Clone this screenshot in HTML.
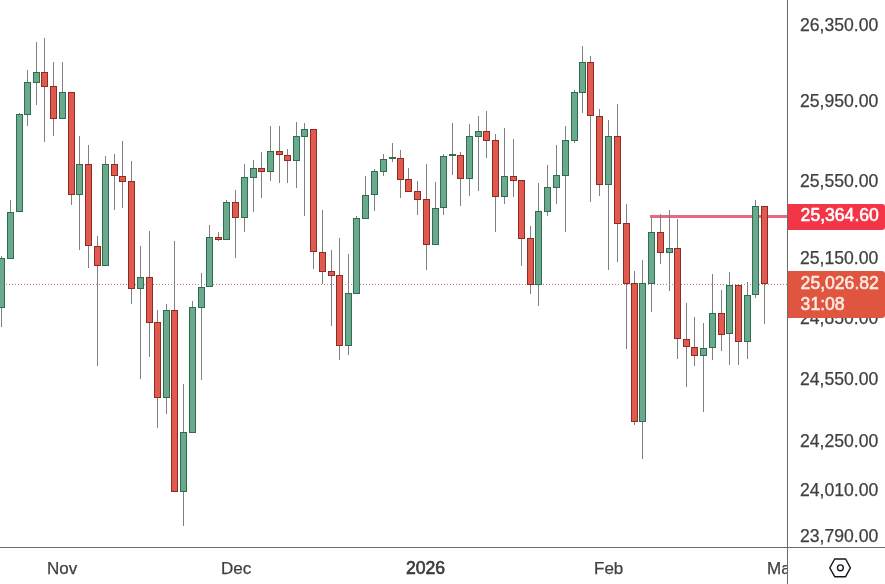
<!DOCTYPE html>
<html><head><meta charset="utf-8">
<style>
html,body{margin:0;padding:0;background:#fff;}
body{width:885px;height:584px;position:relative;overflow:hidden;font-family:"Liberation Sans",sans-serif;}
.pl,.tl,.lab{will-change:transform;}
.pl,.tl{-webkit-text-stroke:0.25px #404040;}
.vline{position:absolute;left:787px;top:0;width:1px;height:584px;background:#6b6b6b;}
.hline{position:absolute;left:0;top:547px;width:885px;height:1px;background:#6b6b6b;}
.pl{position:absolute;left:800px;width:84px;height:21px;line-height:21px;font-size:17.6px;color:#404040;white-space:nowrap;}
.tl{position:absolute;top:557.5px;height:21px;line-height:21px;font-size:17px;color:#404040;white-space:nowrap;}
.lab{position:absolute;left:788px;width:97px;border-radius:0 3px 3px 0;color:#fff;font-weight:normal;font-size:17.6px;-webkit-text-stroke:0.55px currentColor;}
.lab div{position:absolute;left:12.6px;height:21px;line-height:21px;white-space:nowrap;}
</style></head><body>
<svg width="787" height="547" viewBox="0 0 787 547" style="position:absolute;left:0;top:0" shape-rendering="crispEdges">
<line x1="6" y1="284.5" x2="787" y2="284.5" stroke="#c47482" stroke-width="1" stroke-dasharray="1 2" />
<rect x="650" y="215" width="137" height="3" fill="#e46c80"/>
<g fill="#808080"><rect x="1" y="256" width="1" height="71"/><rect x="10" y="200" width="1" height="59"/><rect x="19" y="113" width="1" height="99"/><rect x="27" y="70" width="1" height="56"/><rect x="36" y="42" width="1" height="63"/><rect x="44" y="38" width="1" height="104"/><rect x="53" y="62" width="1" height="74"/><rect x="62" y="62" width="1" height="57"/><rect x="71" y="92" width="1" height="113"/><rect x="79" y="136" width="1" height="114"/><rect x="88" y="145" width="1" height="123"/><rect x="97" y="236" width="1" height="130"/><rect x="105" y="156" width="1" height="110"/><rect x="114" y="154" width="1" height="56"/><rect x="122" y="141" width="1" height="67"/><rect x="131" y="161" width="1" height="143"/><rect x="140" y="246" width="1" height="133"/><rect x="149" y="231" width="1" height="126"/><rect x="157" y="310" width="1" height="118"/><rect x="166" y="304" width="1" height="110"/><rect x="174" y="241" width="1" height="251"/><rect x="183" y="384" width="1" height="142"/><rect x="192" y="301" width="1" height="132"/><rect x="201" y="273" width="1" height="107"/><rect x="209" y="225" width="1" height="62"/><rect x="218" y="232" width="1" height="9"/><rect x="226" y="200" width="1" height="39"/><rect x="235" y="190" width="1" height="68"/><rect x="244" y="164" width="1" height="68"/><rect x="253" y="160" width="1" height="52"/><rect x="261" y="152" width="1" height="46"/><rect x="270" y="126" width="1" height="55"/><rect x="279" y="126" width="1" height="57"/><rect x="287" y="149" width="1" height="34"/><rect x="296" y="122" width="1" height="66"/><rect x="304" y="123" width="1" height="93"/><rect x="313" y="129" width="1" height="140"/><rect x="322" y="210" width="1" height="74"/><rect x="331" y="250" width="1" height="76"/><rect x="339" y="238" width="1" height="122"/><rect x="348" y="254" width="1" height="101"/><rect x="356" y="216" width="1" height="78"/><rect x="365" y="176" width="1" height="42"/><rect x="374" y="169" width="1" height="42"/><rect x="383" y="154" width="1" height="22"/><rect x="392" y="143" width="1" height="19"/><rect x="400" y="150" width="1" height="48"/><rect x="408" y="168" width="1" height="24"/><rect x="417" y="181" width="1" height="34"/><rect x="426" y="164" width="1" height="106"/><rect x="435" y="182" width="1" height="63"/><rect x="443" y="154" width="1" height="61"/><rect x="452" y="123" width="1" height="52"/><rect x="460" y="152" width="1" height="54"/><rect x="469" y="124" width="1" height="72"/><rect x="478" y="116" width="1" height="75"/><rect x="486" y="111" width="1" height="47"/><rect x="495" y="134" width="1" height="98"/><rect x="504" y="128" width="1" height="76"/><rect x="513" y="139" width="1" height="58"/><rect x="521" y="180" width="1" height="86"/><rect x="530" y="226" width="1" height="68"/><rect x="538" y="183" width="1" height="123"/><rect x="547" y="165" width="1" height="51"/><rect x="556" y="145" width="1" height="59"/><rect x="565" y="126" width="1" height="106"/><rect x="574" y="90" width="1" height="53"/><rect x="582" y="46" width="1" height="67"/><rect x="590" y="56" width="1" height="146"/><rect x="599" y="109" width="1" height="87"/><rect x="608" y="120" width="1" height="150"/><rect x="617" y="104" width="1" height="158"/><rect x="626" y="204" width="1" height="145"/><rect x="634" y="271" width="1" height="154"/><rect x="642" y="260" width="1" height="199"/><rect x="651" y="218" width="1" height="94"/><rect x="660" y="214" width="1" height="50"/><rect x="669" y="210" width="1" height="81"/><rect x="677" y="219" width="1" height="140"/><rect x="686" y="303" width="1" height="84"/><rect x="694" y="317" width="1" height="49"/><rect x="703" y="323" width="1" height="89"/><rect x="712" y="274" width="1" height="86"/><rect x="721" y="290" width="1" height="61"/><rect x="729" y="272" width="1" height="93"/><rect x="738" y="285" width="1" height="80"/><rect x="747" y="282" width="1" height="77"/><rect x="755" y="200" width="1" height="98"/><rect x="764" y="206" width="1" height="118"/></g>
<g><rect x="-2" y="258" width="7" height="50" fill="#2f6d52"/><rect x="-1" y="259" width="5" height="48" fill="#6aa98b"/><rect x="7" y="212" width="7" height="47" fill="#2f6d52"/><rect x="8" y="213" width="5" height="45" fill="#6aa98b"/><rect x="16" y="114" width="7" height="98" fill="#2f6d52"/><rect x="17" y="115" width="5" height="96" fill="#6aa98b"/><rect x="24" y="82" width="7" height="33" fill="#2f6d52"/><rect x="25" y="83" width="5" height="31" fill="#6aa98b"/><rect x="33" y="72" width="7" height="11" fill="#2f6d52"/><rect x="34" y="73" width="5" height="9" fill="#6aa98b"/><rect x="41" y="72" width="7" height="15" fill="#8c2c22"/><rect x="42" y="73" width="5" height="13" fill="#e15a50"/><rect x="50" y="86" width="7" height="33" fill="#8c2c22"/><rect x="51" y="87" width="5" height="31" fill="#e15a50"/><rect x="59" y="92" width="7" height="27" fill="#2f6d52"/><rect x="60" y="93" width="5" height="25" fill="#6aa98b"/><rect x="68" y="92" width="7" height="103" fill="#8c2c22"/><rect x="69" y="93" width="5" height="101" fill="#e15a50"/><rect x="76" y="164" width="7" height="31" fill="#2f6d52"/><rect x="77" y="165" width="5" height="29" fill="#6aa98b"/><rect x="85" y="164" width="7" height="82" fill="#8c2c22"/><rect x="86" y="165" width="5" height="80" fill="#e15a50"/><rect x="94" y="246" width="7" height="20" fill="#8c2c22"/><rect x="95" y="247" width="5" height="18" fill="#e15a50"/><rect x="102" y="164" width="7" height="102" fill="#2f6d52"/><rect x="103" y="165" width="5" height="100" fill="#6aa98b"/><rect x="111" y="164" width="7" height="12" fill="#8c2c22"/><rect x="112" y="165" width="5" height="10" fill="#e15a50"/><rect x="119" y="176" width="7" height="6" fill="#8c2c22"/><rect x="120" y="177" width="5" height="4" fill="#e15a50"/><rect x="128" y="181" width="7" height="108" fill="#8c2c22"/><rect x="129" y="182" width="5" height="106" fill="#e15a50"/><rect x="137" y="277" width="7" height="12" fill="#2f6d52"/><rect x="138" y="278" width="5" height="10" fill="#6aa98b"/><rect x="146" y="277" width="7" height="46" fill="#8c2c22"/><rect x="147" y="278" width="5" height="44" fill="#e15a50"/><rect x="154" y="322" width="7" height="76" fill="#8c2c22"/><rect x="155" y="323" width="5" height="74" fill="#e15a50"/><rect x="163" y="310" width="7" height="88" fill="#2f6d52"/><rect x="164" y="311" width="5" height="86" fill="#6aa98b"/><rect x="171" y="310" width="7" height="182" fill="#8c2c22"/><rect x="172" y="311" width="5" height="180" fill="#e15a50"/><rect x="180" y="432" width="7" height="60" fill="#2f6d52"/><rect x="181" y="433" width="5" height="58" fill="#6aa98b"/><rect x="189" y="307" width="7" height="126" fill="#2f6d52"/><rect x="190" y="308" width="5" height="124" fill="#6aa98b"/><rect x="198" y="287" width="7" height="21" fill="#2f6d52"/><rect x="199" y="288" width="5" height="19" fill="#6aa98b"/><rect x="206" y="237" width="7" height="50" fill="#2f6d52"/><rect x="207" y="238" width="5" height="48" fill="#6aa98b"/><rect x="215" y="237" width="7" height="3" fill="#8c2c22"/><rect x="216" y="238" width="5" height="1" fill="#e15a50"/><rect x="223" y="202" width="7" height="38" fill="#2f6d52"/><rect x="224" y="203" width="5" height="36" fill="#6aa98b"/><rect x="232" y="202" width="7" height="16" fill="#8c2c22"/><rect x="233" y="203" width="5" height="14" fill="#e15a50"/><rect x="241" y="177" width="7" height="41" fill="#2f6d52"/><rect x="242" y="178" width="5" height="39" fill="#6aa98b"/><rect x="250" y="168" width="7" height="10" fill="#2f6d52"/><rect x="251" y="169" width="5" height="8" fill="#6aa98b"/><rect x="258" y="168" width="7" height="4" fill="#8c2c22"/><rect x="259" y="169" width="5" height="2" fill="#e15a50"/><rect x="267" y="151" width="7" height="21" fill="#2f6d52"/><rect x="268" y="152" width="5" height="19" fill="#6aa98b"/><rect x="276" y="151" width="7" height="4" fill="#8c2c22"/><rect x="277" y="152" width="5" height="2" fill="#e15a50"/><rect x="284" y="155" width="7" height="6" fill="#8c2c22"/><rect x="285" y="156" width="5" height="4" fill="#e15a50"/><rect x="293" y="136" width="7" height="25" fill="#2f6d52"/><rect x="294" y="137" width="5" height="23" fill="#6aa98b"/><rect x="301" y="129" width="7" height="8" fill="#2f6d52"/><rect x="302" y="130" width="5" height="6" fill="#6aa98b"/><rect x="310" y="129" width="7" height="123" fill="#8c2c22"/><rect x="311" y="130" width="5" height="121" fill="#e15a50"/><rect x="319" y="252" width="7" height="20" fill="#8c2c22"/><rect x="320" y="253" width="5" height="18" fill="#e15a50"/><rect x="328" y="271" width="7" height="5" fill="#8c2c22"/><rect x="329" y="272" width="5" height="3" fill="#e15a50"/><rect x="336" y="275" width="7" height="71" fill="#8c2c22"/><rect x="337" y="276" width="5" height="69" fill="#e15a50"/><rect x="345" y="293" width="7" height="53" fill="#2f6d52"/><rect x="346" y="294" width="5" height="51" fill="#6aa98b"/><rect x="353" y="218" width="7" height="76" fill="#2f6d52"/><rect x="354" y="219" width="5" height="74" fill="#6aa98b"/><rect x="362" y="195" width="7" height="24" fill="#2f6d52"/><rect x="363" y="196" width="5" height="22" fill="#6aa98b"/><rect x="371" y="171" width="7" height="24" fill="#2f6d52"/><rect x="372" y="172" width="5" height="22" fill="#6aa98b"/><rect x="380" y="159" width="7" height="13" fill="#2f6d52"/><rect x="381" y="160" width="5" height="11" fill="#6aa98b"/><rect x="389" y="157" width="7" height="2" fill="#2f6d52"/><rect x="397" y="158" width="7" height="22" fill="#8c2c22"/><rect x="398" y="159" width="5" height="20" fill="#e15a50"/><rect x="405" y="179" width="7" height="13" fill="#8c2c22"/><rect x="406" y="180" width="5" height="11" fill="#e15a50"/><rect x="414" y="191" width="7" height="9" fill="#8c2c22"/><rect x="415" y="192" width="5" height="7" fill="#e15a50"/><rect x="423" y="199" width="7" height="46" fill="#8c2c22"/><rect x="424" y="200" width="5" height="44" fill="#e15a50"/><rect x="432" y="208" width="7" height="37" fill="#2f6d52"/><rect x="433" y="209" width="5" height="35" fill="#6aa98b"/><rect x="440" y="156" width="7" height="52" fill="#2f6d52"/><rect x="441" y="157" width="5" height="50" fill="#6aa98b"/><rect x="449" y="154" width="7" height="2" fill="#2f6d52"/><rect x="457" y="155" width="7" height="24" fill="#8c2c22"/><rect x="458" y="156" width="5" height="22" fill="#e15a50"/><rect x="466" y="136" width="7" height="43" fill="#2f6d52"/><rect x="467" y="137" width="5" height="41" fill="#6aa98b"/><rect x="475" y="131" width="7" height="6" fill="#2f6d52"/><rect x="476" y="132" width="5" height="4" fill="#6aa98b"/><rect x="483" y="131" width="7" height="10" fill="#8c2c22"/><rect x="484" y="132" width="5" height="8" fill="#e15a50"/><rect x="492" y="140" width="7" height="57" fill="#8c2c22"/><rect x="493" y="141" width="5" height="55" fill="#e15a50"/><rect x="501" y="176" width="7" height="21" fill="#2f6d52"/><rect x="502" y="177" width="5" height="19" fill="#6aa98b"/><rect x="510" y="176" width="7" height="5" fill="#8c2c22"/><rect x="511" y="177" width="5" height="3" fill="#e15a50"/><rect x="518" y="180" width="7" height="59" fill="#8c2c22"/><rect x="519" y="181" width="5" height="57" fill="#e15a50"/><rect x="527" y="238" width="7" height="47" fill="#8c2c22"/><rect x="528" y="239" width="5" height="45" fill="#e15a50"/><rect x="535" y="211" width="7" height="74" fill="#2f6d52"/><rect x="536" y="212" width="5" height="72" fill="#6aa98b"/><rect x="544" y="187" width="7" height="25" fill="#2f6d52"/><rect x="545" y="188" width="5" height="23" fill="#6aa98b"/><rect x="553" y="175" width="7" height="13" fill="#2f6d52"/><rect x="554" y="176" width="5" height="11" fill="#6aa98b"/><rect x="562" y="140" width="7" height="36" fill="#2f6d52"/><rect x="563" y="141" width="5" height="34" fill="#6aa98b"/><rect x="571" y="92" width="7" height="49" fill="#2f6d52"/><rect x="572" y="93" width="5" height="47" fill="#6aa98b"/><rect x="579" y="62" width="7" height="31" fill="#2f6d52"/><rect x="580" y="63" width="5" height="29" fill="#6aa98b"/><rect x="587" y="62" width="7" height="54" fill="#8c2c22"/><rect x="588" y="63" width="5" height="52" fill="#e15a50"/><rect x="596" y="116" width="7" height="69" fill="#8c2c22"/><rect x="597" y="117" width="5" height="67" fill="#e15a50"/><rect x="605" y="136" width="7" height="49" fill="#2f6d52"/><rect x="606" y="137" width="5" height="47" fill="#6aa98b"/><rect x="614" y="136" width="7" height="88" fill="#8c2c22"/><rect x="615" y="137" width="5" height="86" fill="#e15a50"/><rect x="623" y="223" width="7" height="61" fill="#8c2c22"/><rect x="624" y="224" width="5" height="59" fill="#e15a50"/><rect x="631" y="283" width="7" height="139" fill="#8c2c22"/><rect x="632" y="284" width="5" height="137" fill="#e15a50"/><rect x="639" y="283" width="7" height="139" fill="#2f6d52"/><rect x="640" y="284" width="5" height="137" fill="#6aa98b"/><rect x="648" y="232" width="7" height="52" fill="#2f6d52"/><rect x="649" y="233" width="5" height="50" fill="#6aa98b"/><rect x="657" y="232" width="7" height="21" fill="#8c2c22"/><rect x="658" y="233" width="5" height="19" fill="#e15a50"/><rect x="666" y="248" width="7" height="5" fill="#2f6d52"/><rect x="667" y="249" width="5" height="3" fill="#6aa98b"/><rect x="674" y="248" width="7" height="91" fill="#8c2c22"/><rect x="675" y="249" width="5" height="89" fill="#e15a50"/><rect x="683" y="339" width="7" height="8" fill="#8c2c22"/><rect x="684" y="340" width="5" height="6" fill="#e15a50"/><rect x="691" y="347" width="7" height="9" fill="#8c2c22"/><rect x="692" y="348" width="5" height="7" fill="#e15a50"/><rect x="700" y="348" width="7" height="8" fill="#2f6d52"/><rect x="701" y="349" width="5" height="6" fill="#6aa98b"/><rect x="709" y="313" width="7" height="35" fill="#2f6d52"/><rect x="710" y="314" width="5" height="33" fill="#6aa98b"/><rect x="718" y="313" width="7" height="22" fill="#8c2c22"/><rect x="719" y="314" width="5" height="20" fill="#e15a50"/><rect x="726" y="285" width="7" height="49" fill="#2f6d52"/><rect x="727" y="286" width="5" height="47" fill="#6aa98b"/><rect x="735" y="285" width="7" height="57" fill="#8c2c22"/><rect x="736" y="286" width="5" height="55" fill="#e15a50"/><rect x="744" y="295" width="7" height="47" fill="#2f6d52"/><rect x="745" y="296" width="5" height="45" fill="#6aa98b"/><rect x="752" y="206" width="7" height="89" fill="#2f6d52"/><rect x="753" y="207" width="5" height="87" fill="#6aa98b"/><rect x="761" y="206" width="7" height="78" fill="#8c2c22"/><rect x="762" y="207" width="5" height="76" fill="#e15a50"/></g>
</svg>
<div class="pl" style="top:15.20px">26,350.00</div>
<div class="pl" style="top:91.45px">25,950.00</div>
<div class="pl" style="top:170.60px">25,550.00</div>
<div class="pl" style="top:247.90px">25,150.00</div>
<div class="pl" style="top:308.40px">24,850.00</div>
<div class="pl" style="top:369.10px">24,550.00</div>
<div class="pl" style="top:430.80px">24,250.00</div>
<div class="pl" style="top:479.80px">24,010.00</div>
<div class="pl" style="top:526.45px">23,790.00</div>

<div class="lab" style="top:203.5px;height:26px;background:#f23648;"><div style="top:1px">25,364.60</div></div>
<div class="lab" style="top:271px;height:47px;background:#df5540;color:#fdeae2;"><div style="top:1.5px">25,026.82</div><div style="top:22.5px">31:08</div></div>
<div class="tl" style="left:47px">Nov</div>
<div class="tl" style="left:220.5px">Dec</div>
<div class="tl" style="left:405.5px;font-size:17.6px;-webkit-text-stroke:0.6px #333">2026</div>
<div class="tl" style="left:593.5px">Feb</div>
<div style="position:absolute;left:0;top:0;width:787px;height:584px;overflow:hidden;pointer-events:none"><div class="tl" style="left:767px">Mar</div></div>
<div class="vline"></div>
<div class="hline"></div>
<svg width="30" height="26" viewBox="0 0 30 26" style="position:absolute;left:825px;top:555px">
<polygon points="4.8,12.8 9.7,4 20.6,4 25.4,12.8 20.6,21.7 9.7,21.7" fill="none" stroke="#131722" stroke-width="1.4" stroke-linejoin="round"/>
<circle cx="15.4" cy="12.8" r="2.9" fill="none" stroke="#131722" stroke-width="1.4"/>
</svg>
</body></html>
